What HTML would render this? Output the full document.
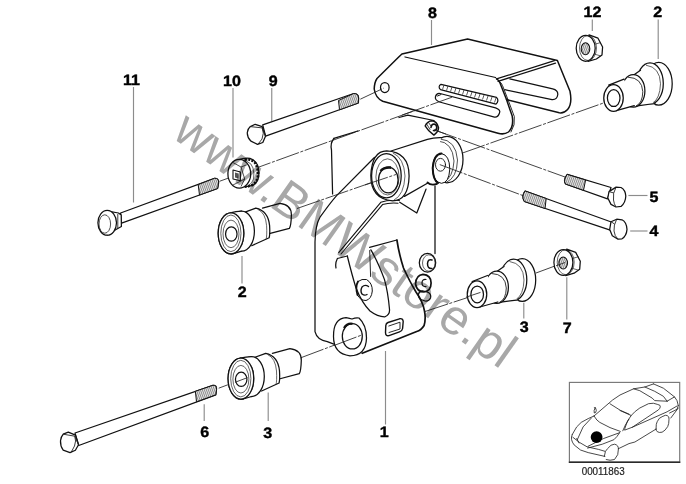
<!DOCTYPE html>
<html><head><meta charset="utf-8">
<style>
html,body{margin:0;padding:0;background:#fff;}
body{width:686px;height:484px;overflow:hidden;}
svg{display:block;}
.k{fill:none;stroke:#111;stroke-width:1.25;stroke-linejoin:round;stroke-linecap:round;}
.w{fill:#fff;stroke:#111;stroke-width:1.25;stroke-linejoin:round;}
.t{fill:none;stroke:#222;stroke-width:0.7;}
.d{fill:none;stroke:#222;stroke-width:0.85;stroke-dasharray:24 1.6 3 1.6;}
.ld{fill:none;stroke:#555;stroke-width:1;}
.lab{font-family:"Liberation Sans",sans-serif;font-weight:bold;font-size:14.5px;fill:#000;}
.thr{fill:#bbb;stroke:#111;stroke-width:1;}
</style></head><body>
<svg width="686" height="484" viewBox="0 0 686 484">
<rect width="686" height="484" fill="#fff"/>
<defs>
<pattern id="hat" patternUnits="userSpaceOnUse" width="2" height="4" patternTransform="skewX(20)">
<rect width="2" height="4" fill="#e8e8e8"/><rect width="1" height="4" fill="#8a8a8a"/>
</pattern>
<pattern id="hat2" patternUnits="userSpaceOnUse" width="2" height="4" patternTransform="skewX(-20)">
<rect width="2" height="4" fill="#e8e8e8"/><rect width="1" height="4" fill="#8a8a8a"/>
</pattern>
</defs>
<!-- dashed axis lines (under parts) -->
<g class="d">
<path d="M219.5 181.3 L451 97.5"/>
<path d="M297 208.5 L400 172.7"/>
<path d="M462 153.2 L603.5 103"/>
<path d="M434 129.8 L565 177"/>
<path d="M218.7 388.2 L247 377.6"/>
<path d="M301 357.7 L360 335.5"/>
<path d="M425 311.5 L480 293.5"/>
<path d="M536 273 L563 263"/>
</g>
<!-- Bracket 8 -->
<g>
<path class="w" d="M401.9 54 L467.6 39 L557.4 60.5 L570 91.3 Q572.5 104 567.6 109.5 Q564 113.5 559.3 112.8 L506.5 99.6 L512.2 116.1 Q514 127 508.5 132 Q504 135 498 133.2 L382.7 101.2 Q375.5 98 374.2 89 Q374.5 82 377 78.5 L397.7 58 Z" style="stroke-width:1.5"/>
<path class="k" d="M405 57 L495.6 77.5"/>
<path class="k" d="M496.5 78.9 L554.4 60.7 M498 81.3 L555.5 63.2"/>
<path class="k" d="M496.5 78.9 Q499 80 500 83 L506.5 99.6" style="stroke-width:1.5"/>
<path class="k" d="M498.7 81 Q501.5 82.5 502.5 85.5 L508.5 101 L514.3 116.5 Q515.5 125 511 132" style="stroke-width:0.9"/>
<path class="k" d="M509.8 78.9 L552.7 88.8 Q558 90 557.8 94.5 Q557 100 552 99.6 L504.8 89.7"/>
<ellipse class="k" cx="384.8" cy="87.5" rx="4.3" ry="5"/>
<path class="k" d="M441 84.3 L496.5 97.3 Q499.5 100.5 496 104.2 L440.5 89.7 Q437.5 86.5 441 84.3 Z" style="stroke-width:1.2"/>
<path d="M444 85 l-1.5 4.5 M448 86 l-1.5 4.5 M452 87 l-1.5 4.5 M456 88 l-1.5 4.5 M460 89 l-1.5 4.5 M464 90 l-1.5 4.5 M468 91 l-1.5 4.5 M472 92 l-1.5 4.5 M476 93 l-1.5 4.5 M480 94 l-1.5 4.5 M484 95 l-1.5 4.5 M488 96 l-1.5 4.5 M492 97 l-1.5 4.5 M496 98 l-1.5 4.5" fill="none" stroke="#333" stroke-width="0.8"/>
<path class="k" d="M440 93.5 L495.6 107.8 Q501 110 499.5 113 Q498 117.5 494.5 117.1 L439.6 102 Q434.5 100 435.5 96.5 Q436.5 93 440 93.5 Z"/>
<path class="k" d="M437.5 96 L441 94.5" style="stroke-width:1"/>
</g>
<!-- Bracket 1 -->
<g>
<path class="k" d="M333.9 138.3 L357.8 131 M399 117.5 L407.8 115.2 L434 120.5"/>
<path class="k" d="M333.9 138.5 Q330 143 331.5 150 L332.6 194"/>
<path class="k" d="M374.4 157.5 L338.6 193.6 Q333 199 320 217.2 Q315.3 225 315 242 L315 331.7 Q317 340 327.3 341.7 L337.2 345.4"/>
<path class="k" d="M435 186 L435 253.5"/>
<!-- arm lower edge double -->
<path class="k" d="M399.4 200.5 Q388 199.5 380.8 202.3 L338.7 252.7 M398 203.2 Q389 202.5 382.5 204.6 L341 254" style="stroke-width:1.1"/>
<!-- front face -->
<path class="k" d="M337.4 258.5 L347.3 256 M369.6 247.4 L396.9 240 M337.4 258.5 Q335 263 336 268"/>
<path class="k" d="M347.3 256 Q352 275 356 288 Q362 303 370 311 Q378 317 385 316.8 Q390 314.5 389.5 309.3 Q388 292 384.5 279.6 Q378 262 370.9 249.9"/>
<path class="k" d="M396.9 240 Q399 254 403.5 268 Q410 282 416 292 Q423 302 424.5 311 Q426 319 424.1 325.5 Q421 330.5 416.7 331.5 L362.2 353.3" style="stroke-width:1.7"/>
<!-- big hole -->
<path class="w" d="M333.5 336.6 Q333.2 318.5 346 317.6 Q350 318.5 352 319 Q356 317.3 359 318 Q366.5 325 366.5 338 Q366 355.8 350 355.8 Q333.5 354 333.5 336.6 Z"/>
<ellipse class="k" cx="352.3" cy="336.3" rx="10" ry="12.7"/>
<path d="M344 328 Q347 323 352.5 323.8" stroke="#111" stroke-width="2.3" fill="none"/>
<!-- small holes -->
<path class="k" d="M358 281.5 Q362 278.5 366.5 279.5 Q372.5 283 372.3 291 Q371.5 299 366 300.5 Q360 300.5 357.5 295" style="stroke-width:1"/>
<path class="k" d="M357.5 295 Q355 287 358 281.5" style="stroke-width:1.8"/>
<path class="k" d="M368.5 286.5 Q365 284 362 287 Q360 291 362 294 Q364.5 296 367 294.5" style="stroke-width:1.4"/>
<path class="k" d="M369.7 250.5 L370.6 276.5" style="stroke-width:0.9"/>
<ellipse class="w" cx="427.5" cy="262.8" rx="8.2" ry="9.4"/>
<ellipse class="t" cx="428.8" cy="263" rx="6.3" ry="8.2"/>
<path class="k" d="M432 260 Q428 258.5 427.5 263.5 Q427.5 269 432 268.5" style="stroke-width:1.5"/>
<path class="k" d="M415.5 284 Q416 275 423 274.4 Q431 275 431.1 283 Q431 291 424 292 Q417 292 415.5 284 Z" style="stroke-width:1.7"/>
<path class="k" d="M426 279.5 Q422 279 422 283 Q422 287 426 286.5" style="stroke-width:1.2"/>
<path class="k" d="M418.5 294 Q419.5 290.5 423.5 291 L428.5 292.5 Q431.5 294.5 430.5 298 Q429 301.5 425 301 L421 299.5 Q418 297.5 418.5 294 Z"/>
<!-- slot -->
<path class="k" d="M388 322.5 L399.5 318.8 Q403 318 403.2 321.5 L402.6 328.5 Q402.2 331 399.5 331.8 L389 335.6 Q385.5 336.3 385.5 332.5 L385.8 325.5 Q386 323.2 388 322.5 Z" style="stroke-width:1.4"/>
<path class="k" d="M388.8 326 L400 322.2 L400 329 L389 332.5" style="stroke-width:0.9"/>
<!-- sleeve: right flange -->
<path class="k" d="M399.7 202.2 L416.8 213 L426 189.2"/>
<ellipse class="w" cx="447" cy="159.6" rx="16" ry="23.2"/>
<path class="t" d="M440 139 Q456 140 457.5 160 Q457 178 446 182.5 M438 141 Q452.5 142 454 161 Q453 178 443.5 182" style="stroke-width:0.8"/>
<path class="w" d="M391 151 L427.4 139.3 Q434 137.5 441.5 137.8 L437 150 L432 166 L433.5 181 L427.4 183.3 L404.4 196.4 Z" style="stroke:none"/>
<path class="k" d="M391 151 L427.4 139.3 Q434 137.3 441.8 137.6 M404.4 196.4 L427.4 183.3"/>
<path class="w" d="M441.5 153.6 Q449.5 155 449.8 169 Q449 183 441.5 183.3 Q433 182.5 432.7 168 Q433 154 441.5 153.6 Z" style="stroke-width:1"/>
<path class="k" d="M441.5 153.6 Q434 154 432.7 168 Q433 180 438 183" style="stroke-width:2"/>
<ellipse class="k" cx="440.5" cy="164.8" rx="5" ry="6.4" style="stroke-width:0.9"/>
<path class="k" d="M427.5 182.5 Q431 186 437 183.8" style="stroke-width:1.8"/>
<!-- left flange -->
<path class="w" d="M386.7 150.9 Q409.1 152 409.1 176 Q408.5 200.8 392.5 200.8 Q370.8 199 370.8 175.5 Q372 151 386.7 150.9 Z"/>
<ellipse class="k" cx="386.4" cy="175.8" rx="14.8" ry="22.1"/>
<path class="t" d="M393 153 Q404 158 405 176 Q404 195 394 200"/>
<ellipse class="t" cx="387.5" cy="176.9" rx="11.6" ry="18.1"/>
<ellipse class="k" cx="388.3" cy="180" rx="9.8" ry="12.8"/>
<path d="M380.5 171 Q384 167 391 167.6" stroke="#111" stroke-width="2.6" fill="none"/>
<!-- tab -->
<path class="w" d="M425.2 126 Q427 121.5 431.6 120.7 Q437 121 438.5 127.6 Q438.5 132 433.9 135.1 Q428 131 425.2 126 Z" style="stroke-width:1.5"/>
<path class="k" d="M427 124.5 L430 129.5 M428.5 122.5 L431 126" style="stroke-width:0.8"/>
<path class="k" d="M431 127.5 Q431.5 124 434 124 Q437 124.5 436.8 128 Q436 131 433.5 130.5" style="stroke-width:1.6"/>
</g>
<g class="d">
<path d="M365 184.9 L396 174.5"/>
<path d="M334 345.5 L361 335.3"/>
<path d="M434 129.8 L446 134.1"/>
</g>
<!-- Bolt 11 -->
<g>
<path class="w" d="M120.6 213 L214.5 178.3 Q219 178 218.6 183 L217.6 188.5 L121.6 223.2 Z"/>
<path class="thr" d="M198.2 184.6 L214.5 178.3 Q219 178 218.6 183 L217.6 188.5 L199.5 195 Z" style="fill:url(#hat)"/>
<path class="w" d="M106.5 210.8 L118.5 213 L121.2 215 L121.4 226.5 L116 229.5 L107.2 235.2 Z"/>
<path class="t" d="M117.8 214 L117.8 228" style="stroke-width:0.9"/>
<ellipse class="w" cx="107.2" cy="222.8" rx="9.3" ry="12.4"/>
<ellipse class="t" cx="104.8" cy="224" rx="5.8" ry="9.2" style="stroke-width:0.8"/>
</g>

<!-- Bolt 9 -->
<g>
<path class="w" d="M262.7 124.8 L353.7 93.5 Q358.5 93.5 358.6 98 L358.4 103 L265.6 136.2 Z"/>
<path class="thr" d="M338.5 100.5 L353.7 93.5 Q358.5 93.5 358.6 98 L358.4 103 L339.5 109.8 Z" style="fill:url(#hat)"/>
<path class="w" d="M250.3 126.6 L255.2 124.3 L262.2 126.6 L265.5 136.2 L262.8 142.5 L257.5 144.4 L250.9 141.1 Q247 137 247.3 132.5 Q248 128.5 250.3 126.6 Z"/>
<path class="t" d="M250.3 126.6 L262.2 127.9 L265.5 136.2 M262.2 127.9 Q264.5 133 262 139 L258 144.2" style="stroke-width:0.9"/>
</g>

<!-- Nut 10 knurled -->
<g>
<path class="w" d="M240 159.3 Q246 157.5 250 158.4 Q255 160 257.5 165 Q259.5 171 258.6 177 Q257.5 182 254 184.5 Q250 186.5 244 187 Z"/>
<path d="M244.5 159.6 Q252 158.5 255.5 163.5 Q258.5 169 258 176 Q257 182 252.5 185 Q249 186.5 245 186.7" fill="none" stroke="#111" stroke-width="2.6" stroke-dasharray="2.2 1.3"/>
<path d="M247 161.5 Q251.5 163 253 168 Q254.5 174 253.5 179 Q252 183.5 248.5 185.5" fill="none" stroke="#222" stroke-width="0.7"/>
<ellipse class="w" cx="239.3" cy="173.7" rx="11.4" ry="14.4"/>
<path class="t" d="M232 162 L241 167 L247.5 164.5 M241 167 L244.7 179 L241 186.5 M244.7 179 L233 185" style="stroke-width:0.8"/>
<path class="k" d="M233 170 L240.4 172 L240.4 180.7 L233 179 Z" style="stroke-width:1.1"/>
<path d="M235 172.5 L238.5 173.5 L238.5 178.5 L235 177.5 Z" fill="#555"/>
</g>

<!-- Bolt 5 -->
<g>
<path class="w" d="M567.2 174.4 L611 187.5 L607.5 198.9 L565.5 184 Q563 180 567.2 174.4 Z"/>
<path class="thr" d="M567.2 174.4 L585.6 180 L583.5 190.3 L565.5 184 Q563 180 567.2 174.4 Z" style="fill:url(#hat2)"/>
</g>

<!-- Bolt 4 -->
<g>
<path class="w" d="M525.2 191 L612.7 222.5 L611 230.3 L524.4 201.5 Q521 196 525.2 191 Z"/>
<path class="thr" d="M525.2 191 L546.2 198.5 L545 208.5 L524.4 201.5 Q521 196 525.2 191 Z" style="fill:url(#hat2)"/>
</g>

<g>
<path class="w" d="M609 191.6 L616.1 187.1 L621 187.5 Q625.5 190 625.8 196 Q625.5 203 621 206.4 L616 207 L611 204.4 L607.8 198 Z"/>
<path class="t" d="M616.1 187.1 Q612.5 193 613.5 200 Q614 204 616 207 M609 191.6 L613.8 193" style="stroke-width:0.9"/>
<path class="w" d="M611 221.7 L616.7 219.2 L622 219.8 Q626.5 222 627 229.4 Q626.5 236 622 238.8 L618 239.2 L612.3 235.8 L609.7 229.4 Z"/>
<path class="t" d="M616.7 219.2 Q613.5 225 614 231 Q614.5 236 618 239.2 M611 221.7 L614.5 224" style="stroke-width:0.9"/>
</g>
<!-- Bolt 6 -->
<g>
<path class="w" d="M75 433 L212.9 385.3 Q217 385 216.5 389.5 L215.8 394.8 L78.75 445.5 Z"/>
<path class="thr" d="M195.4 391.3 L212.9 385.3 Q217 385 216.5 389.5 L215.8 394.8 L196.5 401.8 Z" style="fill:url(#hat)"/>
<path class="w" d="M63.2 434.2 L68.3 432.2 L75.4 435.2 L78.5 444.8 L75.4 450.2 L70 452.6 L63.2 450.2 Q60.2 446 60.5 440.7 Q61 436.5 63.2 434.2 Z"/>
<path class="t" d="M63.2 434.2 L74.8 436.2 L78.5 444.8 M74.8 436.2 Q76.5 441 74.5 446 L71 452.5" style="stroke-width:0.9"/>
</g>


<!-- Bushing A: 3 right (and 2 top-right via use) -->
<g id="bushA">
<ellipse class="w" cx="522.2" cy="280" rx="13.5" ry="21.4"/>
<ellipse class="w" cx="513.5" cy="279.8" rx="13.3" ry="20.6"/>
<path class="t" d="M509.5 261.5 Q523.5 263.5 524 280 Q523.5 295 516 299.5"/>
<path class="w" d="M497.2 271 L503.8 266.3 Q507 272 509.5 284 Q513 296 518.3 300.5 L500.9 302.1 Z" style="stroke:none"/>
<path class="k" d="M497.2 271.2 L504 266.5 M500.9 302.1 L518.3 299.8"/>
<ellipse class="w" cx="496.8" cy="287.2" rx="11.6" ry="16.2"/>
<path class="t" d="M491.5 273.5 Q505.5 274 506.3 288 Q506 299.5 499.5 302.3" style="stroke-width:0.9"/>
<path class="w" d="M472.2 281.5 L487.5 275.5 Q491 283 493 292 Q495 299 497.2 302 L479.8 307 Z" style="stroke:none"/>
<path class="k" d="M472.2 281.5 L487.5 275.5 M497.8 302 L479.8 307"/>
<ellipse class="w" cx="477" cy="294.3" rx="9.75" ry="13.35"/>
<ellipse class="k" cx="477.2" cy="294.4" rx="6.3" ry="8.4"/>
</g>
<use href="#bushA" transform="translate(136.5 -196.3)"/>

<!-- Bushing B: 3 lower-left -->
<g id="bushB">
<path class="w" d="M272.4 353.4 L289.9 348.7 Q301.3 350 301.3 360.2 Q301 371 299.3 373.6 L279.1 379 Z" style="stroke:none"/>
<path class="k" d="M272.4 353.4 L289.9 348.7 Q301.3 350 301.3 360.2 Q301 371 299.3 373.6 L279.1 379"/>
<path class="w" d="M252.9 358.1 L265.7 353.4 Q278 356 279.1 370.9 L279.1 383 L261.6 391 Z" style="stroke:none"/>
<path class="k" d="M252.9 358.1 L265.7 353.4 Q278 356 279.5 370.9 Q280 380 279.1 383 L261.6 391"/>
<path class="t" d="M267.5 354.5 Q275.5 358 276.5 371 Q277 381 276 384.5"/>
<ellipse class="w" cx="251.5" cy="376.5" rx="12.8" ry="20"/>
<ellipse class="w" cx="240.9" cy="378.6" rx="12.8" ry="20.5"/>
<path class="w" d="M240.2 358.1 L251.5 356.5 L251.5 396.5 L241 399.1 Z" style="stroke:none"/>
<path class="k" d="M240.2 358.1 Q246 356.5 251.5 356.5 M241 399.1 Q247 398 251.5 396.5"/>
<ellipse class="w" cx="240.9" cy="378.6" rx="12.8" ry="20.5"/>
<ellipse class="t" cx="240.8" cy="378.6" rx="10.1" ry="18.3"/>
<ellipse class="t" cx="240.9" cy="379.2" rx="8" ry="13.8"/>
<ellipse class="k" cx="241.2" cy="379.3" rx="5.75" ry="7.1"/>
</g>
<use href="#bushB" transform="translate(-9.9 -145.3)"/>

<!-- Nut 12 -->
<g id="nut">
<path class="w" d="M589 34.9 L598 38.2 L602.6 47 L602 55 L596.4 59 L588 61.4 Z"/>
<path class="t" d="M592 45 L601 42.5 M594 54 L601 56"/>
<ellipse class="w" cx="585.7" cy="48.3" rx="9.5" ry="13"/>
<ellipse class="t" cx="588" cy="48" rx="8.5" ry="12.5"/>
<ellipse cx="585.5" cy="48.8" rx="4.3" ry="6" fill="url(#hat)" stroke="#111" stroke-width="1.1"/>
</g>
<use href="#nut" transform="translate(-22.3 214.2)"/>

<!-- Car box -->
<g>
<rect x="569.4" y="382.4" width="110.3" height="79.7" fill="none" stroke="#777" stroke-width="1.15"/>
<line x1="568.8" y1="462.2" x2="680.3" y2="462.2" stroke="#2a2a2a" stroke-width="1.6"/>
<g fill="none" stroke="#1a1a1a" stroke-width="0.8" stroke-linejoin="round" stroke-linecap="round">
<path d="M594 416 L612.6 400 L620 395 L633.6 388.8 L644.8 387 L653.5 383.9"/>
<path d="M595.3 410.3 m-1 -2.8 q2 0 2 3 q-0.5 3 -2 2.5 q-1 -2 1 -5.5" />
<path d="M594 416 Q597 421 599.8 422.4 L610 427.6 L620.3 431.4"/>
<path d="M610 403.8 L620.3 410.3 L629 414.1"/>
<path d="M594 416 L588.2 418.6 Q580 422 576.7 426.9 L572.2 434.6"/>
<path d="M591.4 418 L583.1 426.9 L577.3 439.7"/>
<path d="M619.6 432.7 L603.6 438.5 L588.2 446.2"/>
<path d="M619.6 432.7 Q617 437 613.9 439.7 L602.3 444.2 L587.6 448.1"/>
<path d="M572.2 434.6 Q571 437 571.6 439.7 Q572 442 574.1 444.9 L580.5 450 L588.2 452.6 L604.9 456.4"/>
<path d="M572.8 437.2 L579.3 442.3 L587 446.8 L598.5 449.4 L604.9 451.3"/>
<path d="M576.7 438.5 L579 443"/>
<path d="M604.3 456.4 Q605 450 607.5 448.7 Q611 444 614.5 444.2 Q618.5 445 618.4 449 Q619 455 614.5 459.5 Q610 461 606.2 459.6"/>
<path d="M618.4 448.7 L629 443.6 L634.9 442 L656 429.1"/>
<path d="M622.8 430.8 L625.4 425 L629 419.2"/>
<path d="M633.6 388.8 L639.8 390.7 L652.2 398.1 L654.7 400.6 L667.1 401.2"/>
<path d="M644.8 387 L654.7 391.3 L663.4 396.3 L667.1 401.2"/>
<path d="M653.5 383.9 L663.4 388.2 L674.5 396.9 L677 400.6 L678.3 405.6"/>
<path d="M667.1 401.2 L674.5 396.9"/>
<path d="M678.3 405.6 L677 409.3 L669.6 413"/>
<path d="M678.3 408 L670.8 418"/>
<path d="M625 427.9 Q627 420 631.2 415.5 Q635 411 639.8 408 L648.5 403.7 Q654 402.5 657.2 404.3 Q661 405 660.3 406.8 Q660 408.5 658.4 409.9 L632.4 427.2 L625 430 Z"/>
<path d="M620 410.5 L631.2 415.5"/>
<path d="M632.4 427.2 L667.1 411.8 L677 406"/>
<path d="M656 429.1 Q656 423 657.2 421.7 Q659 417.5 662.1 416.7 Q666 414.5 667.1 415.5 Q669.5 416.5 669 419.2 Q669 424 667.7 426.6 Q665 431 662.1 432.2 Q659 433 657.2 431.6 Q656 430.5 656 429.1"/>
</g>
<circle cx="596.6" cy="437.1" r="5.9" fill="#000"/>
<text x="581.7" y="474.5" font-family="Liberation Sans, sans-serif" font-size="10.6" fill="#222" stroke="#222" stroke-width="0.2" textLength="43" lengthAdjust="spacingAndGlyphs">00011863</text>
</g>

<!-- dashed over parts -->
<g class="d">
<path d="M439.8 164.6 L524 196"/>
<path d="M360.3 99.2 L384 88"/>
<path d="M402 115.1 L452 97.2"/>
<path d="M235 382.3 L247.5 377.6"/>
<path d="M466 297.2 L480.5 292.4"/>
<path d="M556 265.8 L565 262.5"/>
</g>
<!-- leader lines -->
<g fill="none" stroke="#8c8c8c" stroke-width="1.15">
<line x1="133.5" y1="87" x2="133.5" y2="202.5"/>
<line x1="233" y1="88" x2="233" y2="157.5"/>
<line x1="271.75" y1="88" x2="271.75" y2="121"/>
<line x1="431.5" y1="20" x2="431.5" y2="45"/>
<line x1="592.3" y1="19.5" x2="592.3" y2="31"/>
<line x1="658.2" y1="19.5" x2="658.2" y2="59"/>
<line x1="628.4" y1="195.5" x2="647.5" y2="195.5"/>
<line x1="630.2" y1="231" x2="647.5" y2="231"/>
<line x1="242" y1="256" x2="242" y2="283.5"/>
<line x1="523.8" y1="302.7" x2="523.8" y2="318.5"/>
<line x1="566.8" y1="277.2" x2="566.8" y2="319.5"/>
<line x1="204.2" y1="404.3" x2="204.2" y2="421"/>
<line x1="268.2" y1="392.4" x2="268.2" y2="421"/>
<line x1="385.5" y1="351" x2="385.5" y2="424.5"/>
</g>
<!-- labels -->
<g text-rendering="geometricPrecision" font-family="Liberation Sans, sans-serif" font-weight="bold" font-size="15" fill="#000" stroke="#000" stroke-width="0.4">
<text transform="translate(122.90 85.20) scale(1.07 1)">11</text>
<text transform="translate(223.00 86.30) scale(1.07 1)">10</text>
<text transform="translate(268.70 86.30) scale(1.07 1)">9</text>
<text transform="translate(427.90 17.70) scale(1.07 1)">8</text>
<text transform="translate(583.60 17.10) scale(1.07 1)">12</text>
<text transform="translate(653.30 17.10) scale(1.07 1)">2</text>
<text transform="translate(649.60 202.00) scale(1.07 1)">5</text>
<text transform="translate(649.60 235.50) scale(1.07 1)">4</text>
<text transform="translate(237.65 296.70) scale(1.07 1)">2</text>
<text transform="translate(519.80 332.20) scale(1.07 1)">3</text>
<text transform="translate(562.70 332.50) scale(1.07 1)">7</text>
<text transform="translate(200.15 437.20) scale(1.07 1)">6</text>
<text transform="translate(263.15 437.50) scale(1.07 1)">3</text>
<text transform="translate(379.80 437.20) scale(1.07 1)">1</text>
</g>
<!-- watermark -->
<text x="170.8" y="136.8" transform="rotate(35.2 170.8 136.8)" font-family="Liberation Sans, sans-serif" font-size="49.8" fill="#a8a8a8" style="mix-blend-mode:multiply">www.BMWstore.pl</text>
</svg>
</body></html>
